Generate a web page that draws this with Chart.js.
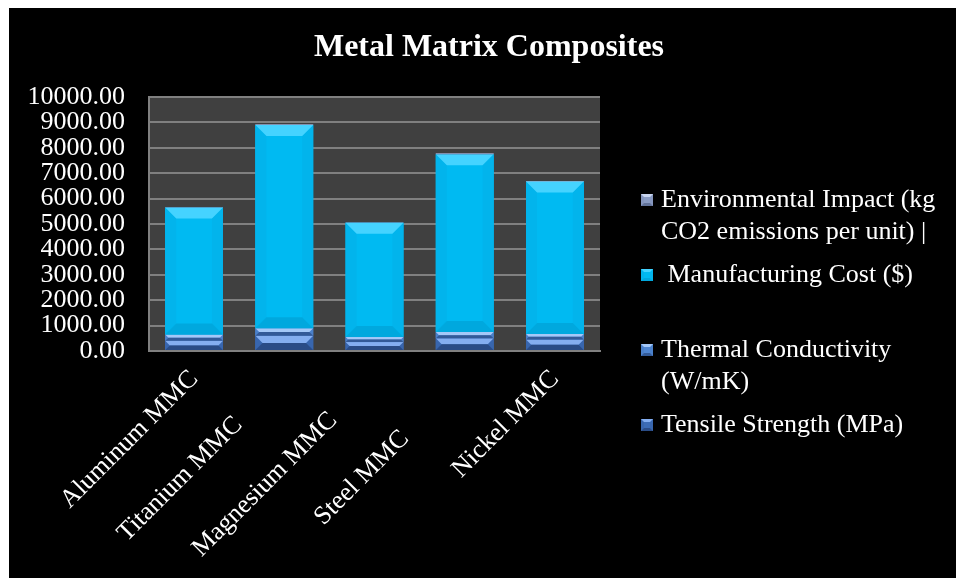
<!DOCTYPE html>
<html>
<head>
<meta charset="utf-8">
<script src="https://cdn.jsdelivr.net/npm/chart.js@4/dist/chart.umd.min.js"></script>
<style>
  html, body { margin: 0; padding: 0; background: #ffffff; }
  #wrap { position: absolute; left: 9px; top: 8px; width: 947px; height: 570px; background: #000000; }
  canvas { display: block; }
</style>
</head>
<body>
<div id="wrap"><canvas id="c" width="947" height="570"></canvas></div>
<script>
// Category names as stored in the sheet (some carry trailing spaces)
const categories = ['Aluminum MMC', 'Titanium MMC          ', 'Magnesium MMC         ', 'Steel MMC             ', 'Nickel MMC'];

// Series values per composite
const tensileStrength     = [400, 600, 350, 500, 450];
const thermalConductivity = [250, 300, 200, 250, 220];
const manufacturingCost   = [5000, 8000, 4500, 7000, 6000];
const environmentalImpact = [12, 20, 9, 25, 15];

// Series names
const seriesNames = [
  'Tensile Strength (MPa)',
  'Thermal Conductivity (W/mK)',
  ' Manufacturing Cost ($)\n',
  'Environmental Impact (kg CO2 emissions per unit) |'
];

// Value axis ticks
const yTicks = [0, 1000, 2000, 3000, 4000, 5000, 6000, 7000, 8000, 9000, 10000];

const chartTitle = 'Metal Matrix Composites';

// Face colours for each series: flat fill plus bevel shades
const palettes = [
  { base: '#3c6cb6', light: '#84aef0', dark: '#2a4c86', side: '#3866ae' },
  { base: '#4f86d2', light: '#a4c8f8', dark: '#335a98', side: '#4a80ca' },
  { base: '#00baf2', light: '#45d3ff', dark: '#00a8de', side: '#02b4ec' },
  { base: '#8a9cc4', light: '#c9d5ef', dark: '#62739a', side: '#8596be' }
];

const SERIF = '"Liberation Serif", "Times New Roman", serif';
const GRID = '#808080';

function poly(ctx, pts, color) {
  ctx.beginPath();
  ctx.moveTo(pts[0][0], pts[0][1]);
  for (let i = 1; i < pts.length; i++) ctx.lineTo(pts[i][0], pts[i][1]);
  ctx.closePath();
  ctx.fillStyle = color;
  ctx.fill();
}

function bevelRect(ctx, l, t, r, b, pal, size) {
  const w = r - l, h = b - t;
  if (w <= 0 || h <= 0) return;
  const s = Math.min(size, w / 2, h / 2);
  ctx.fillStyle = pal.base;
  ctx.fillRect(l, t, w, h);
  poly(ctx, [[l, t], [l + s, t + s], [l + s, b - s], [l, b]], pal.side);
  poly(ctx, [[r, t], [r - s, t + s], [r - s, b - s], [r, b]], pal.side);
  poly(ctx, [[l, t], [r, t], [r - s, t + s], [l + s, t + s]], pal.light);
  poly(ctx, [[l, b], [r, b], [r - s, b - s], [l + s, b - s]], pal.dark);
}

// Dark plot-area fill
const plotBackground = {
  id: 'plotBackground',
  beforeDraw(chart) {
    const { ctx, chartArea: a } = chart;
    ctx.save();
    ctx.fillStyle = '#404040';
    ctx.fillRect(a.left, a.top, a.right - a.left, a.bottom - a.top);
    ctx.restore();
  }
};

// Bevelled faces on every stacked segment
const bevelBars = {
  id: 'bevelBars',
  afterDatasetsDraw(chart) {
    const ctx = chart.ctx;
    ctx.save();
    chart.data.datasets.forEach((ds, di) => {
      const meta = chart.getDatasetMeta(di);
      if (meta.hidden) return;
      meta.data.forEach(el => {
        const p = el.getProps(['x', 'y', 'base', 'width'], true);
        const l = p.x - p.width / 2, r = p.x + p.width / 2;
        const t = Math.min(p.y, p.base), b = Math.max(p.y, p.base);
        bevelRect(ctx, l, t, r, b, palettes[di], 11);
      });
    });
    ctx.restore();
  }
};

// Title and a right-hand legend with wrapped entries
const titleAndLegend = {
  id: 'titleAndLegend',
  afterDraw(chart) {
    const ctx = chart.ctx;
    ctx.save();
    ctx.fillStyle = '#ffffff';
    ctx.font = 'bold 32px ' + SERIF;
    ctx.textAlign = 'center';
    ctx.textBaseline = 'middle';
    ctx.fillText(chartTitle, 480, 40);

    ctx.font = '26px ' + SERIF;
    ctx.textAlign = 'left';
    const textX = 652, markX = 632, mark = 12, maxW = 294;
    const lineH = 32.5, gap = 10;
    let y = 192;
    for (let di = chart.data.datasets.length - 1; di >= 0; di--) {
      const label = chart.data.datasets[di].label;
      const lines = [];
      label.split('\n').forEach(part => {
        const words = part.split(' ');
        let cur = '';
        words.forEach((w, wi) => {
          const test = wi === 0 ? w : cur + ' ' + w;
          if (wi > 0 && ctx.measureText(test).width > maxW) {
            lines.push(cur);
            cur = w;
          } else {
            cur = test;
          }
        });
        lines.push(cur);
      });
      bevelRect(ctx, markX, y - mark / 2, markX + mark, y + mark / 2, palettes[di], 3);
      ctx.fillStyle = '#ffffff';
      lines.forEach((ln, i) => ctx.fillText(ln, textX, y + i * lineH));
      y += lines.length * lineH + gap;
    }
    ctx.restore();
  }
};

const seriesData = [tensileStrength, thermalConductivity, manufacturingCost, environmentalImpact];

new Chart(document.getElementById('c'), {
  type: 'bar',
  data: {
    labels: categories,
    datasets: seriesData.map((vals, i) => ({
      label: seriesNames[i],
      data: vals,
      backgroundColor: palettes[i].base,
      borderWidth: 0,
      categoryPercentage: 1,
      barPercentage: 0.64
    }))
  },
  options: {
    responsive: false,
    animation: false,
    layout: { padding: { top: 89, right: 356, left: 0, bottom: 0 } },
    plugins: {
      legend: { display: false },
      title: { display: false },
      tooltip: { enabled: false }
    },
    scales: {
      x: {
        stacked: true,
        grid: { display: false, drawTicks: false },
        border: { display: true, color: GRID, width: 2 },
        ticks: {
          color: '#ffffff',
          font: { family: SERIF, size: 26 },
          minRotation: 45,
          maxRotation: 45,
          padding: 13,
          autoSkip: false
        },
        afterFit(scale) { scale.height = 227; }
      },
      y: {
        stacked: true,
        min: 0,
        max: 10000,
        afterBuildTicks(scale) { scale.ticks = yTicks.map(v => ({ value: v })); },
        grid: { color: GRID, lineWidth: 2, drawTicks: false },
        border: { display: true, color: GRID, width: 2 },
        ticks: {
          color: '#ffffff',
          font: { family: SERIF, size: 26 },
          padding: 24,
          autoSkip: false,
          callback: v => Number(v).toFixed(2)
        },
        afterFit(scale) { scale.width = 140; }
      }
    }
  },
  plugins: [plotBackground, bevelBars, titleAndLegend]
});
</script>
</body>
</html>
